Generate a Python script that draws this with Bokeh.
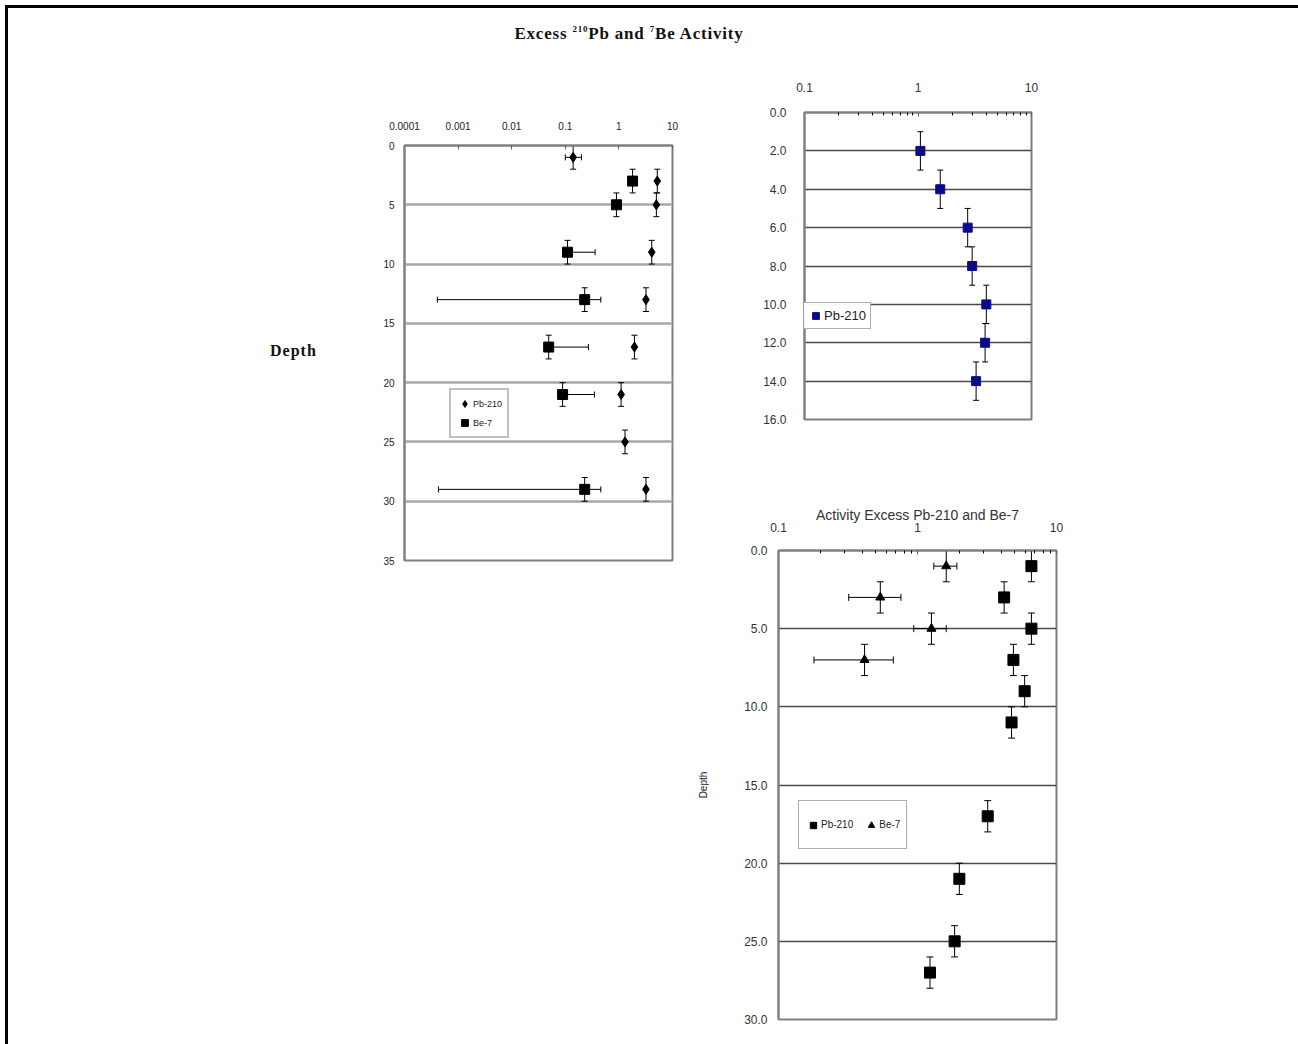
from bokeh.plotting import figure
from bokeh.models import (Range1d, FixedTicker, CustomJSTickFormatter, PrintfTickFormatter,
                          ColumnDataSource, Whisker, TeeHead, Div, Spacer)
from bokeh.layouts import row, column
from bokeh.embed import file_html
from bokeh.resources import INLINE

# ---------------- data ----------------
# Chart 1 (left): Excess Pb-210 and Be-7 activity vs depth
c1_pb_depth = [1, 3, 5, 9, 13, 17, 21, 25, 29]
c1_pb_act = [0.14, 5.2, 5.0, 4.1, 3.2, 1.95, 1.1, 1.3, 3.2]
c1_pb_xlow = [0.10, 5.2, 5.0, 4.1, 3.2, 1.95, 1.1, 1.3, 3.2]
c1_pb_xhigh = [0.20, 5.2, 5.0, 4.1, 3.2, 1.95, 1.1, 1.3, 3.2]
c1_pb_derr = [1, 1, 1, 1, 1, 1, 1, 1, 1]

c1_be_depth = [3, 5, 9, 13, 17, 21, 29]
c1_be_act = [1.8, 0.9, 0.11, 0.23, 0.049, 0.089, 0.23]
c1_be_xlow = [1.8, 0.9, 0.11, 0.00041, 0.049, 0.089, 0.00043]
c1_be_xhigh = [1.8, 0.9, 0.36, 0.46, 0.27, 0.35, 0.46]
c1_be_derr = [1, 1, 1, 1, 1, 1, 1]

c1_xticks = [0.0001, 0.001, 0.01, 0.1, 1, 10]
c1_yticks = [0, 5, 10, 15, 20, 25, 30, 35]
c1_grid = [5, 10, 15, 20, 25, 30]

# Chart 2 (top right): Pb-210
c2_depth = [2, 4, 6, 8, 10, 12, 14]
c2_act = [1.05, 1.57, 2.74, 3.0, 4.0, 3.9, 3.25]
c2_derr = [1, 1, 1, 1, 1, 1, 1]
c2_yticks = [0, 2, 4, 6, 8, 10, 12, 14, 16]
c2_grid = [2, 4, 6, 8, 10, 12, 14]

# Chart 3 (bottom right): Activity Excess Pb-210 and Be-7
c3_pb_depth = [1, 3, 5, 7, 9, 11, 17, 21, 25, 27]
c3_pb_act = [6.6, 4.2, 6.6, 4.9, 5.9, 4.75, 3.2, 2.0, 1.85, 1.23]
c3_pb_derr = [1, 1, 1, 1, 1, 1, 1, 1, 1, 1]

c3_be_depth = [1, 3, 5, 7]
c3_be_act = [1.61, 0.54, 1.26, 0.416]
c3_be_xlow = [1.31, 0.32, 0.94, 0.18]
c3_be_xhigh = [1.92, 0.76, 1.61, 0.67]
c3_be_derr = [1, 1, 1, 1]
c3_yticks = [0, 5, 10, 15, 20, 25, 30]
c3_grid = [5, 10, 15, 20, 25]

log_ticks = [0.1, 1, 10]
log_minor = [0.2, 0.3, 0.4, 0.5, 0.6, 0.7, 0.8, 0.9, 2, 3, 4, 5, 6, 7, 8, 9]

SANS = "Liberation Sans"


def yerr(p, x, y, e, size=7):
    src = ColumnDataSource(dict(base=x, lower=[a - b for a, b in zip(y, e)],
                                upper=[a + b for a, b in zip(y, e)]))
    p.add_layout(Whisker(source=src, base="base", lower="lower", upper="upper",
                         dimension="height", line_color="black", line_width=1,
                         upper_head=TeeHead(size=size, line_color="black", line_width=1),
                         lower_head=TeeHead(size=size, line_color="black", line_width=1)))


def xerr(p, y, lo, hi, size=7):
    keep = [i for i in range(len(y)) if hi[i] > lo[i]]
    src = ColumnDataSource(dict(base=[y[i] for i in keep], lower=[lo[i] for i in keep],
                                upper=[hi[i] for i in keep]))
    p.add_layout(Whisker(source=src, base="base", lower="lower", upper="upper",
                         dimension="width", line_color="black", line_width=1,
                         upper_head=TeeHead(size=size, line_color="black", line_width=1),
                         lower_head=TeeHead(size=size, line_color="black", line_width=1)))


def style_common(p, grid_ticks, grid_color, grid_width, label_size, label_color,
                 ystand, xstand):
    p.xgrid.visible = False
    p.ygrid.ticker = FixedTicker(ticks=grid_ticks)
    p.ygrid.grid_line_color = grid_color
    p.ygrid.grid_line_width = grid_width
    p.outline_line_color = "#808080"
    p.outline_line_width = 2
    for ax in (p.xaxis[0], p.yaxis[0]):
        ax.axis_line_color = "#808080"
        ax.axis_line_width = 2
        ax.major_label_text_font = SANS
        ax.major_label_text_font_size = label_size
        ax.major_label_text_color = label_color
        ax.major_tick_line_color = "#606060"
    p.yaxis.major_tick_out = 0
    p.yaxis.major_tick_in = 0
    p.yaxis.minor_tick_line_color = None
    p.yaxis.major_label_standoff = ystand
    p.xaxis.major_tick_out = 0
    p.xaxis.major_tick_in = 4
    p.xaxis.minor_tick_out = 0
    p.xaxis.minor_tick_in = 3
    p.xaxis.major_label_standoff = xstand
    p.xaxis.formatter = CustomJSTickFormatter(code="return String(tick);")


def style_legend(lg, font_size, glyph, pad, label_h, spacing, border, bw):
    lg.border_line_color = border
    lg.border_line_width = bw
    lg.label_text_font = SANS
    lg.label_text_font_size = font_size
    lg.label_text_color = "#222222"
    lg.glyph_width = glyph
    lg.glyph_height = glyph
    lg.label_standoff = 0
    lg.padding = pad
    lg.spacing = spacing
    lg.margin = 0
    lg.label_height = label_h


# ---------------- chart 1 ----------------
p1 = figure(width=330, height=530, x_axis_type="log", x_axis_location="above",
            x_range=Range1d(0.0001, 10), y_range=Range1d(35, 0),
            output_backend="svg", toolbar_location=None,
            min_border_left=44, min_border_right=18, min_border_top=85, min_border_bottom=30)
style_common(p1, c1_grid, "#a8a8a8", 2.5, "10px", "#222222", 10, 16)
p1.xaxis.ticker = FixedTicker(ticks=c1_xticks, minor_ticks=[])
p1.yaxis.ticker = FixedTicker(ticks=c1_yticks)

yerr(p1, c1_pb_act, c1_pb_depth, c1_pb_derr, 6)
xerr(p1, c1_pb_depth, c1_pb_xlow, c1_pb_xhigh, 6)
yerr(p1, c1_be_act, c1_be_depth, c1_be_derr, 6)
xerr(p1, c1_be_depth, c1_be_xlow, c1_be_xhigh, 6)
p1.scatter(c1_pb_act, c1_pb_depth, marker="diamond", size=10, color="black",
           legend_label="Pb-210")
p1.scatter(c1_be_act, c1_be_depth, marker="square", size=10, color="black",
           legend_label="Be-7")
lg1 = p1.legend[0]
lg1.location = (45, 122)
style_legend(lg1, "9px", 17, 5, 17, 2, "#808080", 2)

# ---------------- chart 2 ----------------
p2 = figure(width=329, height=430, x_axis_type="log", x_axis_location="above",
            x_range=Range1d(0.1, 10), y_range=Range1d(16, 0),
            output_backend="svg", toolbar_location=None,
            min_border_left=88, min_border_right=14, min_border_top=52, min_border_bottom=71)
style_common(p2, c2_grid, "#4a4a4a", 1.5, "12px", "#333333", 18, 21)
p2.xaxis.ticker = FixedTicker(ticks=log_ticks, minor_ticks=log_minor)
p2.yaxis.ticker = FixedTicker(ticks=c2_yticks)
p2.yaxis.formatter = PrintfTickFormatter(format="%.1f")
yerr(p2, c2_act, c2_depth, c2_derr, 6)
p2.scatter(c2_act, c2_depth, marker="square", size=9, color="#0a0a8a",
           legend_label="Pb-210")
lg2 = p2.legend[0]
lg2.location = (-2, 90)
style_legend(lg2, "13px", 17, 4, 17, 0, "#606060", 1.5)

# ---------------- chart 3 ----------------
p3 = figure(width=380, height=549, x_axis_type="log", x_axis_location="above",
            x_range=Range1d(0.1, 10), y_range=Range1d(30, 0),
            output_backend="svg", toolbar_location=None,
            min_border_left=88, min_border_right=14, min_border_top=60, min_border_bottom=20,
            title="Activity Excess Pb-210 and Be-7")
style_common(p3, c3_grid, "#4a4a4a", 1.5, "12px", "#333333", 11, 19)
p3.title.align = "center"
p3.title.text_font = SANS
p3.title.text_font_style = "normal"
p3.title.text_font_size = "14px"
p3.title.text_color = "#333333"
p3.title.standoff = -7
p3.xaxis.ticker = FixedTicker(ticks=log_ticks, minor_ticks=log_minor)
p3.yaxis.ticker = FixedTicker(ticks=c3_yticks)
p3.yaxis.formatter = PrintfTickFormatter(format="%.1f")
p3.yaxis.axis_label = "Depth"
p3.yaxis.axis_label_text_font = SANS
p3.yaxis.axis_label_text_font_style = "normal"
p3.yaxis.axis_label_text_font_size = "10px"
p3.yaxis.axis_label_text_color = "#222222"
p3.yaxis.axis_label_standoff = 32
yerr(p3, c3_pb_act, c3_pb_depth, c3_pb_derr, 7)
yerr(p3, c3_be_act, c3_be_depth, c3_be_derr, 7)
xerr(p3, c3_be_depth, c3_be_xlow, c3_be_xhigh, 7)
p3.scatter(c3_pb_act, c3_pb_depth, marker="square", size=11, color="black",
           legend_label="Pb-210")
p3.scatter(c3_be_act, c3_be_depth, marker="triangle", size=9, color="black",
           legend_label="Be-7")
lg3 = p3.legend[0]
lg3.orientation = "horizontal"
lg3.location = (20, 170)
style_legend(lg3, "10px", 16, 6, 35, 10, "#606060", 1.5)

# ---------------- page layout ----------------
title = Div(text=("<div style=\"width:1242px;text-align:center;padding-top:14px;"
                  "font-family:'Liberation Serif';font-weight:bold;font-size:17px;"
                  "letter-spacing:0.8px;color:#111;\">Excess <sup style='font-size:9px'>210</sup>Pb and "
                  "<sup style='font-size:9px'>7</sup>Be Activity</div>"),
            width=1242, height=52, margin=0)
depth_lbl = Div(text=("<div style=\"padding-left:262px;font-family:'Liberation Serif';"
                      "font-weight:bold;font-size:16px;letter-spacing:1px;color:#111;\">Depth</div>"),
                width=352, height=22, margin=0)
left_col = column(Spacer(width=352, height=280), depth_lbl)
right_col = column(row(Spacer(width=26, height=430), p2), p3)
content = column(title, row(left_col, p1, right_col))

top_bar = Div(text="", width=1293, height=3, margin=0, styles={"background-color": "black"})
left_bar = Div(text="", width=3, height=1036, margin=0, styles={"background-color": "black"})

root = column(Spacer(width=1298, height=5),
              row(Spacer(width=5, height=1039), column(top_bar, row(left_bar, content))))

open("out.html", "w").write(file_html(root, INLINE))
